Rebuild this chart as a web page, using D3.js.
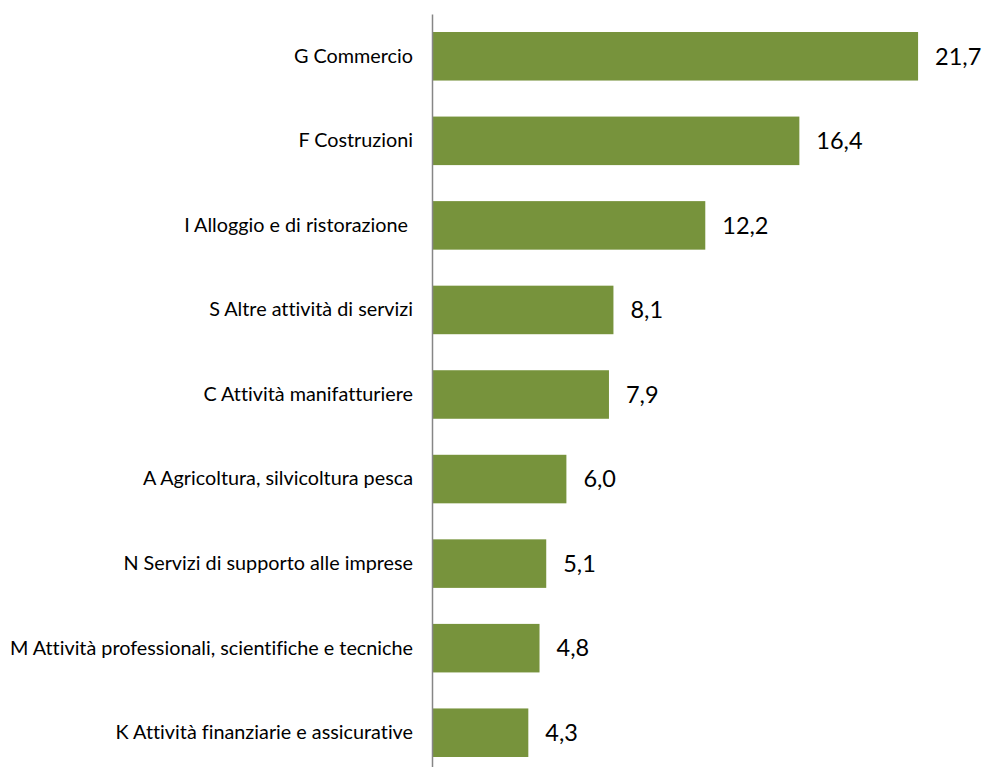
<!DOCTYPE html>
<meta charset="utf-8">
<style>
    body { margin: 0; background: #fff; }
    .axis path { stroke: #868686; stroke-width: 1.5px; }
    .axis text { font-family: Lato, sans-serif; font-size: 19.8px; fill: #000; white-space: pre; font-variant-ligatures: none; }
    .value { font-family: Lato, sans-serif; font-size: 23.5px; fill: #000; }
</style>
<svg width="985" height="767"></svg>
<script src="https://d3js.org/d3.v7.min.js"></script>
<script>

    var categories = [
        "G Commercio",
        "F Costruzioni",
        "I Alloggio e di ristorazione ",
        "S Altre attività di servizi",
        "C Attività manifatturiere",
        "A Agricoltura, silvicoltura pesca",
        "N Servizi di supporto alle imprese",
        "M Attività professionali, scientifiche e tecniche",
        "K Attività finanziarie e assicurative"
    ];
    var values = [21.7, 16.4, 12.2, 8.1, 7.9, 6.0, 5.1, 4.8, 4.3];
    var valueLabels = ["21,7", "16,4", "12,2", "8,1", "7,9", "6,0", "5,1", "4,8", "4,3"];

    var data = categories.map(function (c, i) {
        return { name: c, value: values[i], label: valueLabels[i] };
    });

    var svg = d3.select("svg");

    var x = d3.scaleLinear().domain([0, 25]).range([432, 992]);

    var y = d3.scaleBand()
        .domain(categories)
        .range([14, 775])
        .paddingInner(0.426)
        .paddingOuter(0.213);

    svg.selectAll(".bar")
        .data(data)
        .enter().append("rect")
        .attr("class", "bar")
        .attr("x", x(0))
        .attr("y", function (d) { return y(d.name); })
        .attr("width", function (d) { return x(d.value) - x(0); })
        .attr("height", y.bandwidth())
        .attr("fill", "#77933c");

    svg.append("g")
        .attr("class", "axis")
        .attr("transform", "translate(" + x(0) + ",0)")
        .call(d3.axisLeft(y).tickSize(0).tickPadding(19))
        .call(g => g.selectAll(".tick text").attr("font-family", null).attr("font-size", null));

    svg.selectAll(".value")
        .data(data)
        .enter().append("text")
        .attr("class", "value")
        .attr("x", function (d) { return x(d.value) + 17; })
        .attr("y", function (d) { return y(d.name) + y.bandwidth() / 2; })
        .attr("dy", "0.35em")
        .text(function (d) { return d.label; });

</script>
